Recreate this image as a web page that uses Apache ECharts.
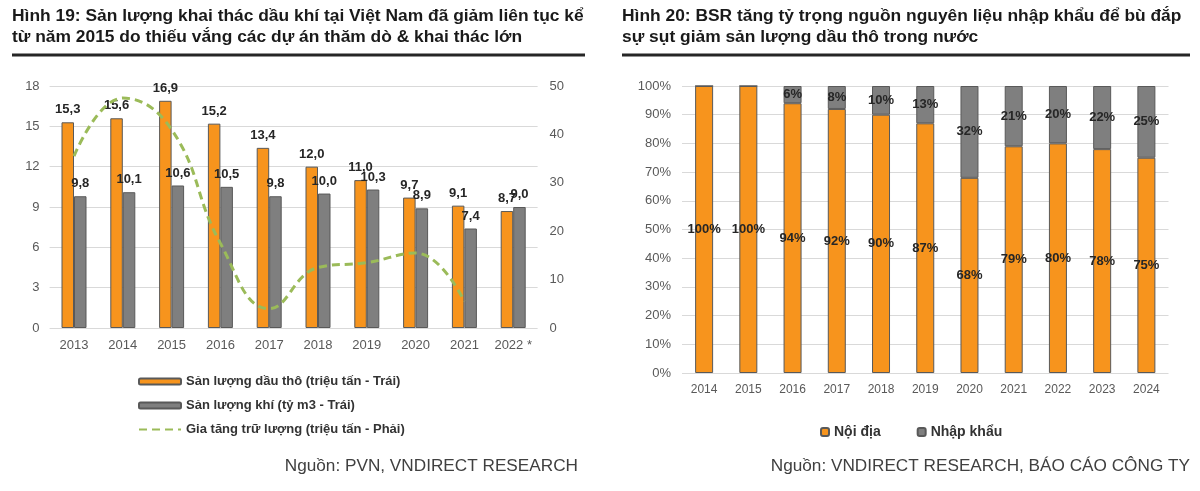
<!DOCTYPE html>
<html>
<head>
<meta charset="utf-8">
<script src="https://cdn.jsdelivr.net/npm/echarts@6/dist/echarts.min.js"></script>
<style>
html,body{margin:0;padding:0;background:#fff;}
#c{width:1200px;height:491px;}
</style>
</head>
<body>
<div id="c"></div>
<script>
// ---- Data: chart 1 (Hình 19) ----
var years1 = ['2013','2014','2015','2016','2017','2018','2019','2020','2021','2022 *'];
var crudeOil = [15.3,15.6,16.9,15.2,13.4,12.0,11.0,9.7,9.1,8.7];
var gasOutput = [9.8,10.1,10.6,10.5,9.8,10.0,10.3,8.9,7.4,9.0];
var reserveGrowth = [35.5,47.5,41,17.5,4,12.5,13.5,15.5,5.5,null];
var leftTicks = {min:0, max:18, interval:3};
var rightTicks = {min:0, max:50, interval:10};

// ---- Data: chart 2 (Hình 20) ----
var years2 = ['2014','2015','2016','2017','2018','2019','2020','2021','2022','2023','2024'];
var domestic = [100,100,94,92,90,87,68,79,80,78,75];
var imported = [0,0,6,8,10,13,32,21,20,22,25];
var pctTicks = {min:0, max:100, interval:10};

var FONT = "'Liberation Sans', Arial, sans-serif";
var ORANGE = '#F7941D';
var GRAY = '#7F7F7F';
var BORDER = '#595959';
var GREEN = '#9BBB59';
var TXT = '#262626';
var AX = '#595959';
var GRID = '#D9D9D9';

function comma(v){ return v.toFixed(1).replace('.', ','); }

var chart = echarts.init(document.getElementById('c'), null, {renderer:'canvas'});
var option = {
  backgroundColor:'#fff',
  animation:false,
  textStyle:{fontFamily:FONT},
  title:[
    {text:'Hình 19: Sản lượng khai thác dầu khí tại Việt Nam đã giảm liên tục kể\ntừ năm 2015 do thiếu vắng các dự án thăm dò & khai thác lớn',
     left:12, top:6, padding:0,
     textStyle:{fontFamily:FONT, fontSize:17.4, fontWeight:'bold', color:'#1a1a1a', lineHeight:21}},
    {text:'Hình 20: BSR tăng tỷ trọng nguồn nguyên liệu nhập khẩu để bù đắp\nsự sụt giảm sản lượng dầu thô trong nước',
     left:622, top:6, padding:0,
     textStyle:{fontFamily:FONT, fontSize:17.4, fontWeight:'bold', color:'#1a1a1a', lineHeight:21}},
    {text:'Nguồn: PVN, VNDIRECT RESEARCH', right:622, top:458, padding:0,
     textStyle:{fontFamily:FONT, fontSize:17.2, fontWeight:'normal', color:'#404040'}},
    {text:'Nguồn: VNDIRECT RESEARCH, BÁO CÁO CÔNG TY', right:10, top:458, padding:0,
     textStyle:{fontFamily:FONT, fontSize:17.2, fontWeight:'normal', color:'#404040'}}
  ],
  graphic:[
    {type:'line', shape:{x1:12,y1:55,x2:585,y2:55}, style:{stroke:'#262626', lineWidth:3}},
    {type:'line', shape:{x1:622,y1:55,x2:1190,y2:55}, style:{stroke:'#262626', lineWidth:3}}
  ],
  legend:[
    {orient:'vertical', left:133, top:370, itemWidth:42, itemHeight:6, itemGap:11,
     data:['Sản lượng dầu thô (triệu tấn - Trái)','Sản lượng khí (tỷ m3 - Trái)',
           {name:'Gia tăng trữ lượng (triệu tấn - Phải)', itemStyle:{opacity:0}}],
     textStyle:{fontFamily:FONT, fontSize:13, fontWeight:'bold', color:'#333'}},
    {orient:'horizontal', left:815, top:420, itemWidth:8, itemHeight:8, itemGap:36,
     data:['Nội địa','Nhập khẩu'],
     textStyle:{fontFamily:FONT, fontSize:14, fontWeight:'bold', color:'#333'}}
  ],
  grid:[
    {left:49.6, right:662.4, top:86, height:242},
    {left:682, right:31.5, top:86, height:287}
  ],
  xAxis:[
    {type:'category', gridIndex:0, data:years1,
     axisLine:{show:false}, axisTick:{show:false},
     axisLabel:{fontFamily:FONT, fontSize:13, color:AX, margin:11, interval:0}},
    {type:'category', gridIndex:1, data:years2,
     axisLine:{show:false}, axisTick:{show:false},
     axisLabel:{fontFamily:FONT, fontSize:12, color:AX, margin:11, interval:0}}
  ],
  yAxis:[
    {type:'value', gridIndex:0, min:leftTicks.min, max:leftTicks.max, interval:leftTicks.interval,
     axisLine:{show:false}, axisTick:{show:false},
     axisLabel:{fontFamily:FONT, fontSize:13, color:AX, margin:10},
     splitLine:{lineStyle:{color:GRID, width:1}}},
    {type:'value', gridIndex:0, position:'right', min:rightTicks.min, max:rightTicks.max, interval:rightTicks.interval,
     axisLine:{show:false}, axisTick:{show:false},
     axisLabel:{fontFamily:FONT, fontSize:13, color:AX, margin:12},
     splitLine:{show:false}},
    {type:'value', gridIndex:1, min:pctTicks.min, max:pctTicks.max, interval:pctTicks.interval,
     axisLine:{show:false}, axisTick:{show:false},
     axisLabel:{fontFamily:FONT, fontSize:13, color:AX, margin:11, formatter:'{value}%'},
     splitLine:{lineStyle:{color:GRID, width:1}}}
  ],
  series:[
    {name:'Sản lượng dầu thô (triệu tấn - Trái)', type:'bar', xAxisIndex:0, yAxisIndex:0,
     data:crudeOil, barWidth:12.5, barGap:'0%',
     itemStyle:{color:ORANGE, borderColor:BORDER, borderWidth:1},
     label:{show:true, position:'top', distance:6, formatter:function(p){return comma(p.value);},
            fontFamily:FONT, fontSize:13, fontWeight:'bold', color:TXT}},
    {name:'Sản lượng khí (tỷ m3 - Trái)', type:'bar', xAxisIndex:0, yAxisIndex:0,
     data:gasOutput, barWidth:12.5, barGap:'0%',
     itemStyle:{color:GRAY, borderColor:BORDER, borderWidth:1},
     label:{show:true, position:'top', distance:6, formatter:function(p){return comma(p.value);},
            fontFamily:FONT, fontSize:13, fontWeight:'bold', color:TXT}},
    {name:'Gia tăng trữ lượng (triệu tấn - Phải)', type:'line', xAxisIndex:0, yAxisIndex:1,
     data:reserveGrowth, smooth:0.45, symbol:'none', connectNulls:false, z:5,
     lineStyle:{color:GREEN, width:3, type:[8,5]}, itemStyle:{color:GREEN}},
    {name:'Nội địa', type:'bar', xAxisIndex:1, yAxisIndex:2, stack:'bsr',
     data:domestic, barWidth:18,
     itemStyle:{color:ORANGE, borderColor:BORDER, borderWidth:1},
     label:{show:true, position:'inside', formatter:function(p){return p.value>0?p.value+'%':'';},
            fontFamily:FONT, fontSize:13, fontWeight:'bold', color:TXT}},
    {name:'Nhập khẩu', type:'bar', xAxisIndex:1, yAxisIndex:2, stack:'bsr',
     data:imported, barWidth:18,
     itemStyle:{color:GRAY, borderColor:BORDER, borderWidth:1},
     label:{show:true, position:'inside', formatter:function(p){return p.value>0?p.value+'%':'';},
            fontFamily:FONT, fontSize:13, fontWeight:'bold', color:TXT}}
  ]
};
chart.setOption(option);
</script>
</body>
</html>
